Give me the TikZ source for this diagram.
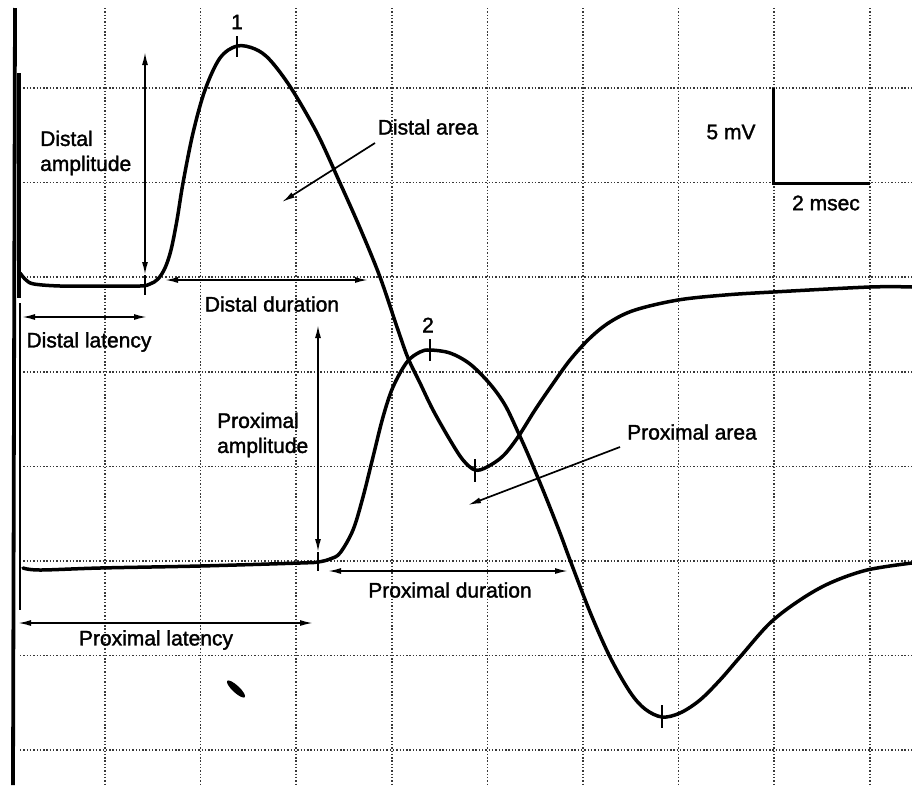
\documentclass[tikz,border=0pt]{standalone}
\usepackage{fontspec}
\setmainfont{Liberation Sans}
\newfontfamily\lblfont{Liberation Sans}[FakeBold=1.6]
\usetikzlibrary{arrows.meta}
\begin{document}
\begin{tikzpicture}[x=1pt,y=-1pt,
  gridline/.style={black!78, line width=1.5pt, dash pattern=on 1.4pt off 1.9pt},
  trace/.style={line width=3.5pt, line join=round, line cap=round},
  dimarrow/.style={line width=1.7pt, {Latex[length=13pt,width=6pt]}-{Latex[length=13pt,width=6pt]}},
  onearrow/.style={line width=1.7pt, -{Latex[length=13pt,width=6pt]}},
  lbl/.style={font=\lblfont\fontsize{21}{25}\selectfont, inner sep=0pt},
  tickmark/.style={line width=1.7pt}]
\fill[white] (0,0) rectangle (912,785);
\useasboundingbox (0,0) rectangle (912,785);
% grid
\foreach \gx in {105,200.6,296.2,391.8,487.4,583,678.6,774.2,869.8}
  \draw[gridline] (\gx,8) -- (\gx,785);
\foreach \gy in {88,182.6,277.2,371.8,466.4,561,655.6,750.2}
  \draw[gridline] (20,\gy) -- (912,\gy);
% stimulus artifact lines
\draw[line width=3.8pt] (15,8) -- (13,785);
\draw[line width=4pt] (18.5,73) -- (18.5,298);
\draw[line width=2.2pt] (20,303) -- (20,610);
% distal trace
\draw[trace] plot[smooth, tension=0.55] coordinates {
(20,273) (26,280) (34,284) (60,286) (100,286) (140,286) (150,284) (158,279) (165,268) (171,250) (177,220) (183,183) (193,133) (205,90) (220,58) (237,46) (255,49) (270,60) (291,88) (317,133) (340,183) (360,228) (380,277) (398,330) (408,358) (420,383) (433,410) (450,440) (463,460) (475,470) (487,467) (503,456) (518,437) (535,410) (552,385) (570,360) (590,338) (610,322) (635,310) (678,300) (725,295) (773,292) (870,287) (912,287)};
% proximal trace
\draw[trace] plot[smooth, tension=0.55] coordinates {
(23,568) (40,570) (100,568) (200,566) (300,563) (318,562) (330,559) (340,553) (353,530) (363,497) (373,457) (383,417) (393,387) (407,362) (420,352) (430,350) (450,353) (470,364) (490,384) (505,405) (518,432) (530,459) (545,495) (560,533) (570,560) (590,612) (610,657) (630,692) (645,709) (662,717) (680,713) (700,700) (720,680) (740,657) (770,623) (800,600) (830,583) (867,570) (912,563)};
% peak / trough ticks
\coordinate (p1a) at (237,36); \coordinate (p1b) at (237,57);
\coordinate (p2a) at (430,339); \coordinate (p2b) at (430,361);
\coordinate (t1a) at (475,459); \coordinate (t1b) at (475,482);
\coordinate (t2a) at (662,705); \coordinate (t2b) at (662,728);
\draw[tickmark] (p1a) -- (p1b);
\draw[tickmark] (p2a) -- (p2b);
\draw[tickmark] (t1a) -- (t1b);
\draw[tickmark] (t2a) -- (t2b);
% distal amplitude
\coordinate (dat) at (145,52); \coordinate (dab) at (145,275); \coordinate (dae) at (145,295);
\draw[dimarrow] (dat) -- (dab);
\draw[tickmark] (dab) -- (dae);
% proximal amplitude
\coordinate (pat) at (318,325); \coordinate (pab) at (318,552); \coordinate (pae) at (318,571);
\draw[dimarrow] (pat) -- (pab);
\draw[tickmark] (pab) -- (pae);
% latencies and durations
\coordinate (dl1) at (22,317); \coordinate (dl2) at (147,317);
\draw[dimarrow] (dl1) -- (dl2);
\coordinate (dd1) at (165,280); \coordinate (dd2) at (368,280);
\draw[dimarrow] (dd1) -- (dd2);
\coordinate (pl1) at (18,623); \coordinate (pl2) at (313,623);
\draw[dimarrow] (pl1) -- (pl2);
\coordinate (pd1) at (328,571); \coordinate (pd2) at (568,571);
\draw[dimarrow] (pd1) -- (pd2);
% area arrows
\coordinate (das) at (375,143); \coordinate (dae2) at (282,202);
\draw[onearrow] (das) -- (dae2);
\coordinate (pas) at (620,447); \coordinate (pae2) at (468,505);
\draw[onearrow] (pas) -- (pae2);
% scale bar
\coordinate (sb1) at (773,88); \coordinate (sb2) at (773,183); \coordinate (sb3) at (870,183);
\draw[line width=3pt] (sb1) -- (sb2) -- (sb3);
% labels
\node[lbl] (n1) at (237,22) {1};
\node[lbl] (n2) at (428,325) {2};
\node[lbl, align=left, anchor=west] (damp) at (40,153) {Distal\\amplitude};
\node[lbl] (darea) at (428,127) {Distal area};
\node[lbl] (mv) at (731,132) {5 mV};
\node[lbl] (ms) at (826,203) {2 msec};
\node[lbl] (ddur) at (272,304) {Distal duration};
\node[lbl] (dlat) at (89,342) {Distal latency};
\node[lbl, align=left, anchor=west] (pamp) at (217,435) {Proximal\\amplitude};
\node[lbl] (parea) at (692,432) {Proximal area};
\node[lbl] (pdur) at (450,590) {Proximal duration};
\node[lbl] (plat) at (156,640) {Proximal latency};
% ink blot
\fill[rotate around={-43:(236,689)}] (236,689) ellipse (12 and 3.5);
\end{tikzpicture}
\end{document}
